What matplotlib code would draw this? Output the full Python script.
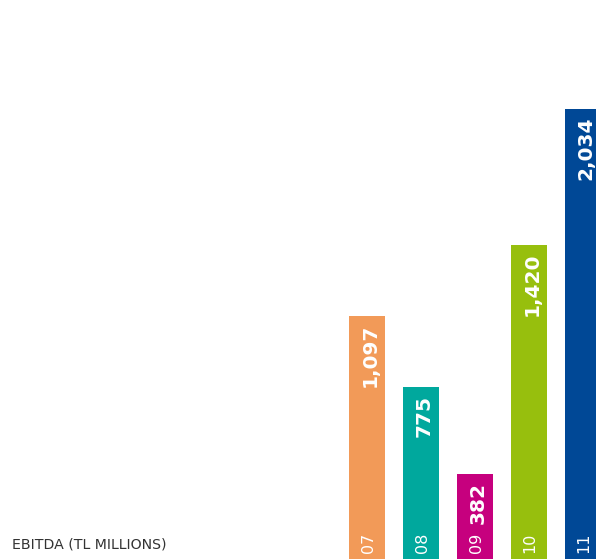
import matplotlib
matplotlib.use('Agg')
import matplotlib.pyplot as plt
from matplotlib.transforms import offset_copy

# EBITDA by year, TL millions
years = ['07', '08', '09', '10', '11']
ebitda = [1097, 775, 382, 1420, 2034]
value_labels = ['1,097', '775', '382', '1,420', '2,034']
bar_colors = ['#F29A58', '#00A89D', '#C6007E', '#97BF0D', '#004896']

fig = plt.figure(figsize=(5.96, 5.59), dpi=100)
ax = fig.add_axes([0, 0, 1, 1])

x = list(range(len(years)))
ax.bar(x, ebitda, width=0.667, color=bar_colors, align='center')

# bars sit at the right edge, first bar centre at 367px, 54px apart
ax.set_xlim(-367 / 54, (596 - 367) / 54)
ax.set_ylim(0, 2524)
ax.axis('off')

for i, (yr, val, lab) in enumerate(zip(years, ebitda, value_labels)):
    # year at the bottom of each bar
    t = offset_copy(ax.transData, fig=fig, x=5.5, y=6, units='dots')
    ax.text(i, 0, yr, transform=t, rotation=90, rotation_mode='anchor',
            ha='left', va='baseline', color='white',
            fontsize=11.5, family='DejaVu Sans')
    # value just below the top of the bar
    t = offset_copy(ax.transData, fig=fig, x=8.5, y=-8, units='dots')
    ax.text(i, val, lab, transform=t, rotation=90, rotation_mode='anchor',
            ha='right', va='baseline', color='white',
            fontsize=14.5, family='DejaVu Sans', fontweight='bold')

fig.text(12 / 596, 10 / 559, 'EBITDA (TL MILLIONS)', color='#333333',
         fontsize=10.2, family='DejaVu Sans', ha='left', va='baseline')

fig.savefig('out.png', dpi=100)
